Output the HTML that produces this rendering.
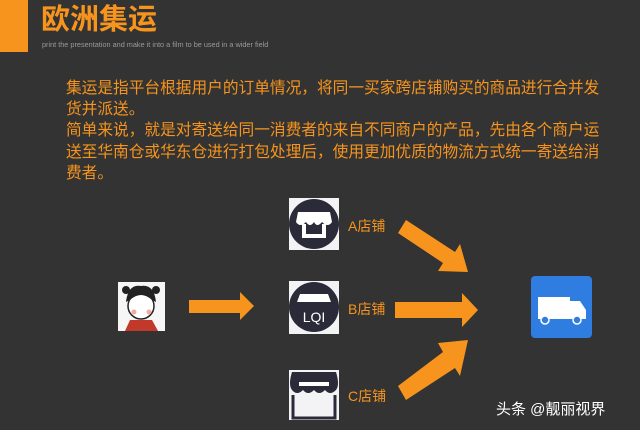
<!DOCTYPE html>
<html><head><meta charset="utf-8"><style>
body{margin:0;width:640px;height:430px;background:#333333;position:relative;overflow:hidden;font-family:"Liberation Sans","Noto Sans CJK SC",sans-serif}
.a{position:absolute}
.t{color:#f7941d}
</style></head><body>
<div class="a" style="left:0;top:0;width:28px;height:52px;background:#f7941d"></div>
<div class="a t" style="left:41px;top:2px;font-size:29px;font-weight:bold;line-height:36px">欧洲集运</div>
<div class="a" style="left:42px;top:40px;font-size:7.3px;color:#9a9a9a;white-space:nowrap">print the presentation and make it into a film to be used in a wider field</div>
<div class="a t" style="left:66px;top:78px;font-size:15.7px;line-height:21.2px;white-space:nowrap">集运是指平台根据用户的订单情况，将同一买家跨店铺购买的商品进行合并发<br>货并派送。<br>简单来说，就是对寄送给同一消费者的来自不同商户的产品，先由各个商户运<br>送至华南仓或华东仓进行打包处理后，使用更加优质的物流方式统一寄送给消<br>费者。</div>
<svg class="a" style="left:0;top:0" width="640" height="430">
<rect x="118" y="282" width="47" height="49" fill="#f6f6f6"/>
<circle cx="141" cy="306" r="13" fill="#fff" stroke="#222" stroke-width="1.5"/>
<path d="M126 302 Q128 284 141 286 Q154 284 156 302 L152 300 Q141 290 130 300Z" fill="#222"/>
<circle cx="126" cy="290" r="4" fill="#222"/><circle cx="156" cy="290" r="4" fill="#222"/>
<circle cx="134" cy="312" r="2.5" fill="#f3a9a0"/><circle cx="149" cy="312" r="2.5" fill="#f3a9a0"/>
<path d="M125 331 L130 320 L152 320 L158 331Z" fill="#c0392b"/>
<g fill="#f7941d">
<polygon points="189,300 240,300 240,292 254,306 240,320 240,313 189,313"/>
<polygon points="395,302 462,302 462,293 478,310 462,327 462,318 395,318"/>
<polygon points="398,233 406,220 455,252 460,244 468,272 438,271 443,263"/>
<polygon points="398,386 406,400 455,368 460,376 468,340 438,343 443,352"/>
</g>
<rect x="289" y="198" width="50" height="52" fill="#f3f3f5"/>
<circle cx="314" cy="224" r="25" fill="#2a2a38"/>
<path d="M298 212 H330 L332 222 Q328 228 322 222 Q317 228 314 222 Q310 228 306 222 Q300 228 296 222Z" fill="#fff"/>
<path d="M302 224 V238 H326 V224 H322 V234 H306 V224Z" fill="#fff"/>
<rect x="289" y="281" width="50" height="53" fill="#f3f3f5"/>
<circle cx="314" cy="307" r="25" fill="#2a2a38"/>
<path d="M300 294 H328 L331 302 H297Z" fill="#fff"/>
<text x="314" y="322" text-anchor="middle" font-size="14" fill="#fff" font-family="Liberation Sans">LQI</text>
<rect x="289" y="370" width="50" height="50" fill="#f3f3f5"/>
<path d="M292 372 H336 Q340 385 336 390 Q330 396 325 390 Q319 396 314 390 Q308 396 303 390 Q297 396 292 390 Q288 385 292 372Z" fill="#2a2a38"/>
<rect x="299" y="382" width="30" height="4" fill="#fff"/>
<path d="M293 395 V418 H335 V395" fill="none" stroke="#2a2a38" stroke-width="3"/>
<rect x="531" y="276" width="61" height="62" rx="4" fill="#2f7de1"/>
<rect x="538" y="297" width="32" height="18" fill="#fff"/>
<path d="M570 301 H580 L586 310 V318 H570Z" fill="#fff"/>
<rect x="538" y="315" width="48" height="4" fill="#fff"/>
<circle cx="545" cy="320" r="4" fill="#2f7de1" stroke="#fff" stroke-width="1.5"/>
<circle cx="577" cy="320" r="4" fill="#2f7de1" stroke="#fff" stroke-width="1.5"/>
</svg>
<div class="a t" style="left:348px;top:216px;font-size:14px">A店铺</div>
<div class="a t" style="left:348px;top:299px;font-size:14px">B店铺</div>
<div class="a t" style="left:348px;top:386px;font-size:14px">C店铺</div>
<div class="a" style="left:496px;top:398px;font-size:15px;color:#fff;white-space:nowrap">头条 @靓丽视界</div>
</body></html>
